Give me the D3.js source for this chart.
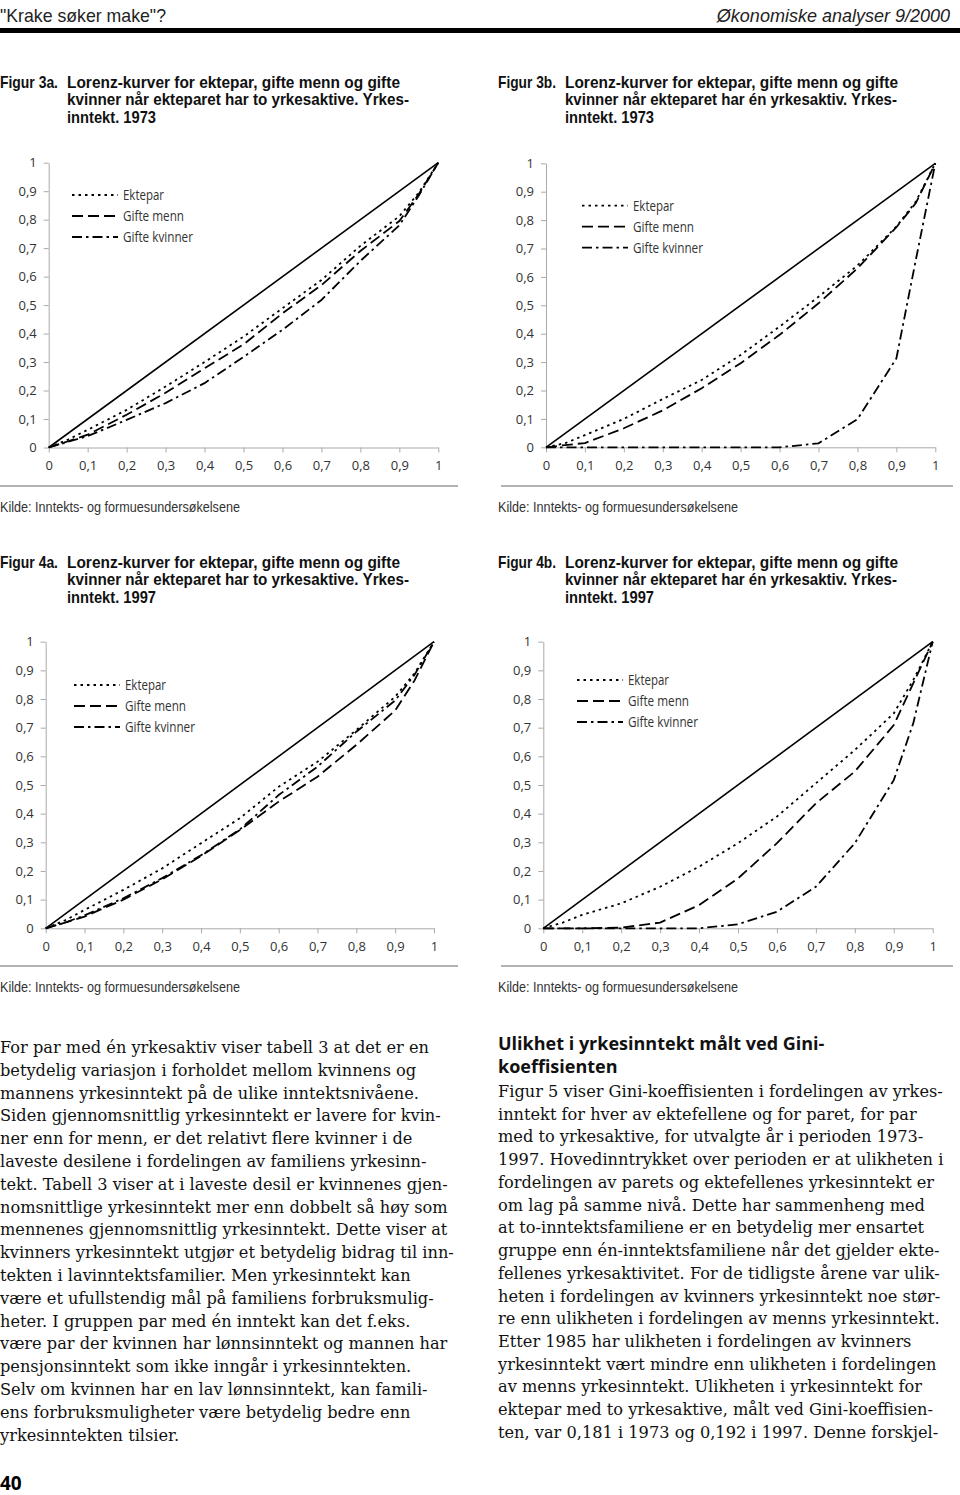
<!DOCTYPE html>
<html>
<head>
<meta charset="utf-8">
<script src="https://cdn.jsdelivr.net/npm/d3@7"></script>
<style>
  body { margin: 0; background: #fff; }
  svg { display: block; }
  .sans { font-family: "Liberation Sans", "Arial", sans-serif; }
  .lbl { font-family: "Open Sans", "Noto Sans", sans-serif; }
  .serif { font-family: "DejaVu Serif", "Liberation Serif", serif; }
</style>
</head>
<body>
<svg id="page" width="960" height="1495"></svg>
<script>
// shares of population (x) used for all curves
const popShares = [0, 0.05, 0.1, 0.2, 0.3, 0.4, 0.5, 0.6, 0.7, 0.8, 0.9, 0.95, 1];
const tickValues = [0, 0.1, 0.2, 0.3, 0.4, 0.5, 0.6, 0.7, 0.8, 0.9, 1];
const tickLabels = ["0", "0,1", "0,2", "0,3", "0,4", "0,5", "0,6", "0,7", "0,8", "0,9", "1"];
const seriesNames = ["Ektepar", "Gifte menn", "Gifte kvinner"];

// Figur 3a: to yrkesaktive, 1973
const ektepar3a = [0, 0.028, 0.062, 0.132, 0.214, 0.300, 0.389, 0.489, 0.588, 0.708, 0.812, 0.895, 1];
const menn3a    = [0, 0.022, 0.045, 0.115, 0.192, 0.278, 0.362, 0.471, 0.570, 0.690, 0.795, 0.890, 1];
const kvinner3a = [0, 0.020, 0.040, 0.097, 0.156, 0.226, 0.318, 0.413, 0.518, 0.655, 0.780, 0.885, 1];
// Figur 3b: én yrkesaktiv, 1973
const ektepar3b = [0, 0.015, 0.043, 0.100, 0.170, 0.237, 0.325, 0.425, 0.530, 0.640, 0.777, 0.865, 1];
const menn3b    = [0, 0.008, 0.015, 0.067, 0.130, 0.208, 0.296, 0.396, 0.507, 0.630, 0.775, 0.860, 1];
const kvinner3b = [0, 0, 0, 0, 0, 0, 0, 0, 0.014, 0.099, 0.313, 0.660, 1];
// Figur 4a: to yrkesaktive, 1997
const ektepar4a = [0, 0.028, 0.064, 0.134, 0.209, 0.297, 0.384, 0.494, 0.581, 0.692, 0.808, 0.890, 1];
const menn4a    = [0, 0.020, 0.041, 0.100, 0.171, 0.252, 0.343, 0.442, 0.529, 0.640, 0.760, 0.865, 1];
const kvinner4a = [0, 0.020, 0.045, 0.105, 0.175, 0.255, 0.345, 0.465, 0.564, 0.686, 0.795, 0.885, 1];
// Figur 4b: én yrkesaktiv, 1997
const ektepar4b = [0, 0.020, 0.047, 0.087, 0.145, 0.215, 0.297, 0.390, 0.506, 0.622, 0.750, 0.866, 1];
const menn4b    = [0, 0, 0, 0.002, 0.020, 0.081, 0.174, 0.297, 0.436, 0.547, 0.709, 0.855, 1];
const kvinner4b = [0, 0, 0, 0, 0, 0, 0.014, 0.058, 0.145, 0.297, 0.517, 0.715, 1];

const titleLines = {
    a: ["Lorenz-kurver for ektepar, gifte menn og gifte", "kvinner når ekteparet har to yrkesaktive. Yrkes-"],
    b: ["Lorenz-kurver for ektepar, gifte menn og gifte", "kvinner når ekteparet har én yrkesaktiv. Yrkes-"]
};
const kilde = "Kilde: Inntekts- og formuesundersøkelsene";

const leftText = [
    "For par med én yrkesaktiv viser tabell 3 at det er en",
    "betydelig variasjon i forholdet mellom kvinnens og",
    "mannens yrkesinntekt på de ulike inntektsnivåene.",
    "Siden gjennomsnittlig yrkesinntekt er lavere for kvin-",
    "ner enn for menn, er det relativt flere kvinner i de",
    "laveste desilene i fordelingen av familiens yrkesinn-",
    "tekt. Tabell 3 viser at i laveste desil er kvinnenes gjen-",
    "nomsnittlige yrkesinntekt mer enn dobbelt så høy som",
    "mennenes gjennomsnittlig yrkesinntekt. Dette viser at",
    "kvinners yrkesinntekt utgjør et betydelig bidrag til inn-",
    "tekten i lavinntektsfamilier. Men yrkesinntekt kan",
    "være et ufullstendig mål på familiens forbruksmulig-",
    "heter. I gruppen par med én inntekt kan det f.eks.",
    "være par der kvinnen har lønnsinntekt og mannen har",
    "pensjonsinntekt som ikke inngår i yrkesinntekten.",
    "Selv om kvinnen har en lav lønnsinntekt, kan famili-",
    "ens forbruksmuligheter være betydelig bedre enn",
    "yrkesinntekten tilsier."
];
const rightHeading = ["Ulikhet i yrkesinntekt målt ved Gini-", "koeffisienten"];
const rightText = [
    "Figur 5 viser Gini-koeffisienten i fordelingen av yrkes-",
    "inntekt for hver av ektefellene og for paret, for par",
    "med to yrkesaktive, for utvalgte år i perioden 1973-",
    "1997. Hovedinntrykket over perioden er at ulikheten i",
    "fordelingen av parets og ektefellenes yrkesinntekt er",
    "om lag på samme nivå. Dette har sammenheng med",
    "at to-inntektsfamiliene er en betydelig mer ensartet",
    "gruppe enn én-inntektsfamiliene når det gjelder ekte-",
    "fellenes yrkesaktivitet. For de tidligste årene var ulik-",
    "heten i fordelingen av kvinners yrkesinntekt noe stør-",
    "re enn ulikheten i fordelingen av menns yrkesinntekt.",
    "Etter 1985 har ulikheten i fordelingen av kvinners",
    "yrkesinntekt vært mindre enn ulikheten i fordelingen",
    "av menns yrkesinntekt. Ulikheten i yrkesinntekt for",
    "ektepar med to yrkesaktive, målt ved Gini-koeffisien-",
    "ten, var 0,181 i 1973 og 0,192 i 1997. Denne forskjel-"
];

const dashes = ["2.5,4", "11,5", "10,4,2.5,4"];

const svg = d3.select("#page");

// squeeze text into a condensed width
function fit(sel, w) {
    sel.attr("textLength", w).attr("lengthAdjust", "spacingAndGlyphs");
}

// header
svg.append("text").attr("class", "sans").attr("x", 0).attr("y", 22)
    .attr("font-size", 19).attr("fill", "#222").text('"Krake søker make"?')
    .call(fit, 166);
svg.append("text").attr("class", "sans").attr("x", 950).attr("y", 22)
    .attr("text-anchor", "end").attr("font-size", 18).attr("font-style", "italic")
    .attr("fill", "#222").text("Økonomiske analyser 9/2000");
svg.append("rect").attr("x", 0).attr("y", 28).attr("width", 960).attr("height", 5).attr("fill", "#000");

const panels = [
    {fig: "Figur 3a.", title: titleLines.a, year: "1973", tx: 0, ty: 87.5, tw: [333, 342, 89],
        x0: 48.7, x1: 438.3, y0: 447.5, y1: 162.7, lx: 72, ly: 195,
        series: [ektepar3a, menn3a, kvinner3a], rule: [0, 458, 486], kx: 0, ky: 512},
    {fig: "Figur 3b.", title: titleLines.b, year: "1973", tx: 498, ty: 87.5, tw: [333, 332, 89],
        x0: 546, x1: 935.3, y0: 447.3, y1: 163.3, lx: 582, ly: 205.7,
        series: [ektepar3b, menn3b, kvinner3b], rule: [501, 953, 486], kx: 498, ky: 512},
    {fig: "Figur 4a.", title: titleLines.a, year: "1997", tx: 0, ty: 567.5, tw: [333, 342, 89],
        x0: 45.7, x1: 434, y0: 928.3, y1: 641.7, lx: 74, ly: 685,
        series: [ektepar4a, menn4a, kvinner4a], rule: [0, 458, 966], kx: 0, ky: 992},
    {fig: "Figur 4b.", title: titleLines.b, year: "1997", tx: 498, ty: 567.5, tw: [333, 332, 89],
        x0: 543.3, x1: 932.7, y0: 928.3, y1: 641.7, lx: 577, ly: 680,
        series: [ektepar4b, menn4b, kvinner4b], rule: [501, 953, 966], kx: 498, ky: 992}
];
const legendWidths = [41, 61, 70];

panels.forEach(p => {
    // title
    let t = svg.append("g").attr("class", "sans").attr("font-weight", "bold")
        .attr("font-size", 17).attr("fill", "#111");
    t.append("text").attr("x", p.tx).attr("y", p.ty).text(p.fig).call(fit, 58);
    let lines = p.title.concat(["inntekt. " + p.year]);
    t.selectAll("text.tl").data(lines).enter().append("text")
        .attr("class", "tl")
        .attr("x", p.tx + 67)
        .attr("y", (d, i) => p.ty + i * 17.5)
        .attr("textLength", (d, i) => p.tw[i])
        .attr("lengthAdjust", "spacingAndGlyphs")
        .text(d => d);

    let x = d3.scaleLinear().domain([0, 1]).range([p.x0, p.x1]);
    let y = d3.scaleLinear().domain([0, 1]).range([p.y0, p.y1]);

    let g = svg.append("g");
    let xAxis = g.append("g").attr("transform", `translate(0,${p.y0})`)
        .call(d3.axisBottom(x).tickValues(tickValues)
            .tickFormat((d, i) => tickLabels[i]).tickSize(5).tickSizeOuter(0).tickPadding(8));
    let yAxis = g.append("g").attr("transform", `translate(${p.x0},0)`)
        .call(d3.axisLeft(y).tickValues(tickValues)
            .tickFormat((d, i) => tickLabels[i]).tickSize(5).tickSizeOuter(0).tickPadding(7));
    [xAxis, yAxis].forEach(a => {
        a.select(".domain").attr("stroke", "#aaa");
        a.selectAll(".tick line").attr("stroke", "#aaa");
        a.selectAll(".tick text").attr("class", "lbl").attr("font-size", 13).attr("fill", "#333");
    });

    // equality line
    g.append("line")
        .attr("x1", x(0)).attr("y1", y(0)).attr("x2", x(1)).attr("y2", y(1))
        .attr("stroke", "#000").attr("stroke-width", 1.6);

    let line = d3.line().x((d, i) => x(popShares[i])).y(d => y(d));
    p.series.forEach((s, k) => {
        g.append("path").datum(s)
            .attr("d", line)
            .attr("fill", "none")
            .attr("stroke", "#000")
            .attr("stroke-width", 1.8)
            .attr("stroke-dasharray", dashes[k]);
    });

    // legend
    let leg = g.selectAll("g.leg").data(seriesNames).enter().append("g")
        .attr("class", "leg")
        .attr("transform", (d, i) => `translate(${p.lx},${p.ly + i * 21})`);
    leg.append("line").attr("x1", 0).attr("x2", 46).attr("y1", 0).attr("y2", 0)
        .attr("stroke", "#000").attr("stroke-width", 1.8)
        .attr("stroke-dasharray", (d, i) => dashes[i]);
    leg.append("text").attr("class", "lbl").attr("x", 51).attr("y", 5)
        .attr("font-size", 14).attr("fill", "#333")
        .attr("textLength", (d, i) => legendWidths[i])
        .attr("lengthAdjust", "spacingAndGlyphs")
        .text(d => d);

    // rule and source
    svg.append("line").attr("x1", p.rule[0]).attr("x2", p.rule[1])
        .attr("y1", p.rule[2]).attr("y2", p.rule[2])
        .attr("stroke", "#666").attr("stroke-width", 1);
    svg.append("text").attr("class", "sans").attr("x", p.kx).attr("y", p.ky)
        .attr("font-size", 14).attr("fill", "#333").text(kilde).call(fit, 240);
});

// body text
svg.append("g").attr("class", "serif").attr("font-size", 16.2).attr("fill", "#111")
    .selectAll("text").data(leftText).enter().append("text")
    .attr("x", 0).attr("y", (d, i) => 1053 + i * 22.8).text(d => d);

svg.append("g").attr("font-family", "'Open Sans', 'Noto Sans', sans-serif")
    .attr("font-weight", "bold").attr("font-size", 18).attr("fill", "#111")
    .selectAll("text").data(rightHeading).enter().append("text")
    .attr("x", 498).attr("y", (d, i) => 1050 + i * 22.5).text(d => d);

svg.append("g").attr("class", "serif").attr("font-size", 16.2).attr("fill", "#111")
    .selectAll("text").data(rightText).enter().append("text")
    .attr("x", 498).attr("y", (d, i) => 1097 + i * 22.73).text(d => d);

// page number
svg.append("text").attr("x", 0).attr("y", 1490)
    .attr("font-family", "'Open Sans', sans-serif").attr("font-weight", "bold")
    .attr("font-size", 19).attr("fill", "#000").text("40");
</script>
</body>
</html>
